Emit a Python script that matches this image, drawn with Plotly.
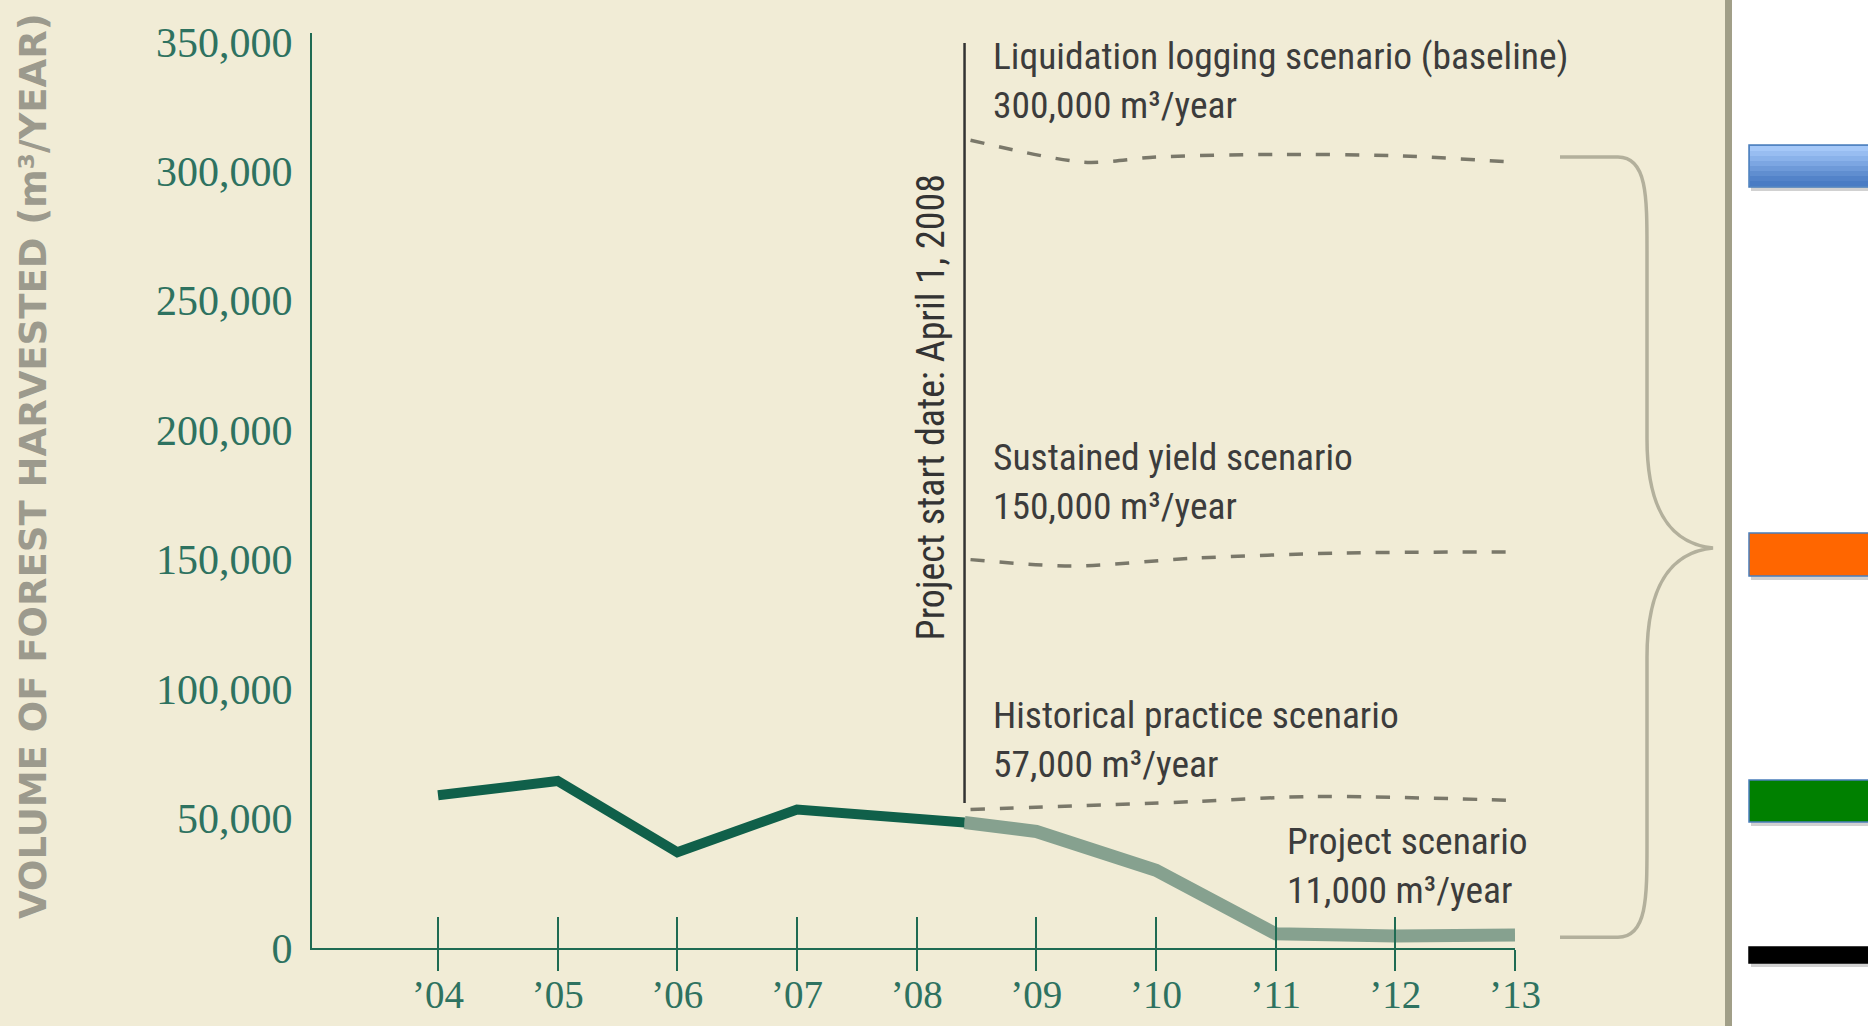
import plotly.graph_objects as go

# ---------------- data ----------------
hist_years = [2004, 2005, 2006, 2007, 2008.4]
hist_harvest = [59000, 64500, 37000, 53500, 48500]

proj_years = [2008.4, 2009, 2010, 2011, 2012, 2013]
proj_harvest = [48500, 45000, 30000, 5500, 4600, 5000]

liq_years = [2008.45, 2009.4, 2010, 2011, 2012, 2013]
liq_vals = [312000, 303500, 305500, 306500, 306000, 303500]

sus_years = [2008.45, 2009.3, 2010.3, 2011.5, 2013]
sus_vals = [150000, 147500, 150500, 152500, 153000]

hpr_years = [2008.45, 2010.3, 2011.3, 2013]
hpr_vals = [53500, 56500, 58500, 57000]

start_x = 2008.4
start_span = [56000, 349500]

x_ticks = [2004, 2005, 2006, 2007, 2008, 2009, 2010, 2011, 2012, 2013]
x_labels = ["’04", "’05", "’06", "’07", "’08", "’09", "’10", "’11", "’12", "’13"]
y_ticks = [0, 50000, 100000, 150000, 200000, 250000, 300000, 350000]
y_labels = ["0", "50,000", "100,000", "150,000", "200,000", "250,000", "300,000", "350,000"]

brace_top = 305500
brace_mid = 154500
brace_bottom = 4200

# ---------------- layout geometry (pixels) ----------------
W, H = 1868, 1026
L, R, T, B = 312, 1515, 33, 948
XR = [2002.947, 2013]
YR = [0, 353400]


def px_x(px):
    return (px - L) / (R - L)


def px_y(py):
    return (B - py) / (B - T)


GREEN_AX = "#1f6b53"
LBL = "#2e7260"
TXT = "#3c3c3c"
DASH = "#7a786a"
NARROW = "Liberation Sans Narrow, Arial Narrow, Roboto Condensed, Liberation Sans, sans-serif"
SERIF = "Liberation Serif, Times New Roman, serif"

fig = go.Figure()

# scenario dashed lines
for xs, ys in [(liq_years, liq_vals), (sus_years, sus_vals), (hpr_years, hpr_vals)]:
    fig.add_trace(go.Scatter(
        x=xs, y=ys, mode="lines",
        line=dict(color=DASH, width=3.5, dash="14px,15px", shape="spline", smoothing=0.8),
        hoverinfo="skip", showlegend=False))

# project start line
fig.add_trace(go.Scatter(
    x=[start_x, start_x], y=start_span, mode="lines",
    line=dict(color="#333333", width=2.5), hoverinfo="skip", showlegend=False))

# project scenario (lighter)
fig.add_trace(go.Scatter(
    x=proj_years, y=proj_harvest, mode="lines",
    line=dict(color="#86a18f", width=13), showlegend=False))

# historical harvest
fig.add_trace(go.Scatter(
    x=hist_years, y=hist_harvest, mode="lines",
    line=dict(color="#10604a", width=10), showlegend=False))

# dummy trace to anchor the inside-tick axis
fig.add_trace(go.Scatter(
    x=[x_ticks[0]], y=[0], xaxis="x2", yaxis="y", mode="lines",
    opacity=0, hoverinfo="skip", showlegend=False))

shapes = []
# cream background of the chart panel
shapes.append(dict(type="rect", xref="paper", yref="paper",
                   x0=px_x(-2), x1=px_x(1725), y0=px_y(1030), y1=px_y(-2),
                   fillcolor="#f1ecd6", line=dict(width=0), layer="below"))
# grey border line of panel
shapes.append(dict(type="rect", xref="paper", yref="paper",
                   x0=px_x(1725), x1=px_x(1732), y0=px_y(1030), y1=px_y(-2),
                   fillcolor="#a19f88", line=dict(width=0), layer="below"))

# curly brace
bx0, bx1, bxv, btip = px_x(1560), px_x(1618), px_x(1647), px_x(1713)
span = brace_top - brace_bottom
path = (
    f"M {bx0},{brace_top} L {bx1},{brace_top} "
    f"C {bxv},{brace_top} {bxv},{brace_top - 0.05 * span} {bxv},{brace_top - 0.12 * span} "
    f"L {bxv},{brace_mid + 0.14 * span} "
    f"C {bxv},{brace_mid + 0.04 * span} {px_x(1675)},{brace_mid + 0.005 * span} {btip},{brace_mid} "
    f"C {px_x(1675)},{brace_mid - 0.005 * span} {bxv},{brace_mid - 0.04 * span} {bxv},{brace_mid - 0.14 * span} "
    f"L {bxv},{brace_bottom + 0.12 * span} "
    f"C {bxv},{brace_bottom + 0.05 * span} {bxv},{brace_bottom} {bx1},{brace_bottom} "
    f"L {bx0},{brace_bottom}"
)
shapes.append(dict(type="path", xref="paper", yref="y", path=path,
                   line=dict(color="#b3b09c", width=3.5)))


# legend-like bars on the right
def bar(y0, y1, color, border="#4a7ebb"):
    shapes.append(dict(type="rect", xref="paper", yref="paper",
                       x0=px_x(1751), x1=px_x(1875), y0=px_y(y1 + 4), y1=px_y(y0 + 4),
                       fillcolor="rgba(0,0,0,0.18)", line=dict(width=0)))
    shapes.append(dict(type="rect", xref="paper", yref="paper",
                       x0=px_x(1749), x1=px_x(1875), y0=px_y(y1), y1=px_y(y0),
                       fillcolor=color, line=dict(color=border, width=1.5)))


bar(145, 187, "#6f9fe0")
blues = ["#a5c8f8", "#98bdf1", "#8ab2ea", "#7ca6e2", "#6e9ad9", "#608ed0", "#5383c9", "#4a7cc4"]
n = len(blues)
for i, c in enumerate(blues):
    ya = 146 + i * (40 / n)
    yb = 146 + (i + 1) * (40 / n)
    shapes.append(dict(type="rect", xref="paper", yref="paper",
                       x0=px_x(1750), x1=px_x(1875), y0=px_y(yb), y1=px_y(ya),
                       fillcolor=c, line=dict(width=0)))
bar(533, 576, "#ff6600")
bar(780, 822, "#008000")
bar(947, 963, "#000000", border="#000000")

annotations = []
lab_font = dict(family=NARROW, size=37.5, color=TXT)
annotations.append(dict(x=2008.62, y=335000, xref="x", yref="y", xanchor="left", yanchor="middle",
                        align="left", showarrow=False, font=lab_font,
                        text="Liquidation logging scenario (baseline)<br>300,000 m³/year"))
annotations.append(dict(x=2008.62, y=180000, xref="x", yref="y", xanchor="left", yanchor="middle",
                        align="left", showarrow=False, font=lab_font,
                        text="Sustained yield scenario<br>150,000 m³/year"))
annotations.append(dict(x=2008.62, y=80500, xref="x", yref="y", xanchor="left", yanchor="middle",
                        align="left", showarrow=False, font=lab_font,
                        text="Historical practice scenario<br>57,000 m³/year"))
annotations.append(dict(x=2011.08, y=31700, xref="x", yref="y", xanchor="left", yanchor="middle",
                        align="left", showarrow=False, font=lab_font,
                        text="Project scenario<br>11,000 m³/year"))
annotations.append(dict(x=2008.12, y=208800, xref="x", yref="y", xanchor="center", yanchor="middle",
                        showarrow=False, textangle=-90, font=dict(family=NARROW, size=38, color="#333333"),
                        text="Project start date: April 1, 2008"))
annotations.append(dict(x=px_x(33), y=px_y(466), xref="paper", yref="paper", xanchor="center",
                        yanchor="middle", showarrow=False, textangle=-90,
                        font=dict(family="DejaVu Sans", size=37, color="#9c9a8d", weight="bold"),
                        text="VOLUME OF FOREST HARVESTED (m³/YEAR)"))

fig.update_layout(
    width=W, height=H, autosize=False,
    margin=dict(l=L, r=W - R, t=T, b=H - B, pad=0, autoexpand=False),
    paper_bgcolor="#ffffff", plot_bgcolor="rgba(0,0,0,0)",
    showlegend=False,
    shapes=shapes, annotations=annotations,
    xaxis=dict(range=XR, showgrid=False, zeroline=False, automargin=False,
               showline=True, linecolor=GREEN_AX, linewidth=2,
               ticks="outside", ticklen=21, tickwidth=2, tickcolor=GREEN_AX,
               tickvals=x_ticks, ticktext=x_labels, ticklabelstandoff=-10,
               tickfont=dict(family=SERIF, size=39, color=LBL)),
    xaxis2=dict(range=XR, overlaying="x", anchor="y", side="bottom", automargin=False,
                showgrid=False, zeroline=False, showline=False,
                ticks="inside", ticklen=31, tickwidth=2, tickcolor=GREEN_AX,
                tickvals=x_ticks, showticklabels=False),
    yaxis=dict(range=YR, showgrid=False, zeroline=False, automargin=False,
               showline=True, linecolor=GREEN_AX, linewidth=2,
               ticks="", tickvals=y_ticks, ticktext=y_labels, ticklabelstandoff=9,
               tickfont=dict(family=SERIF, size=42, color=LBL)),
)

fig.write_html("out.html")
